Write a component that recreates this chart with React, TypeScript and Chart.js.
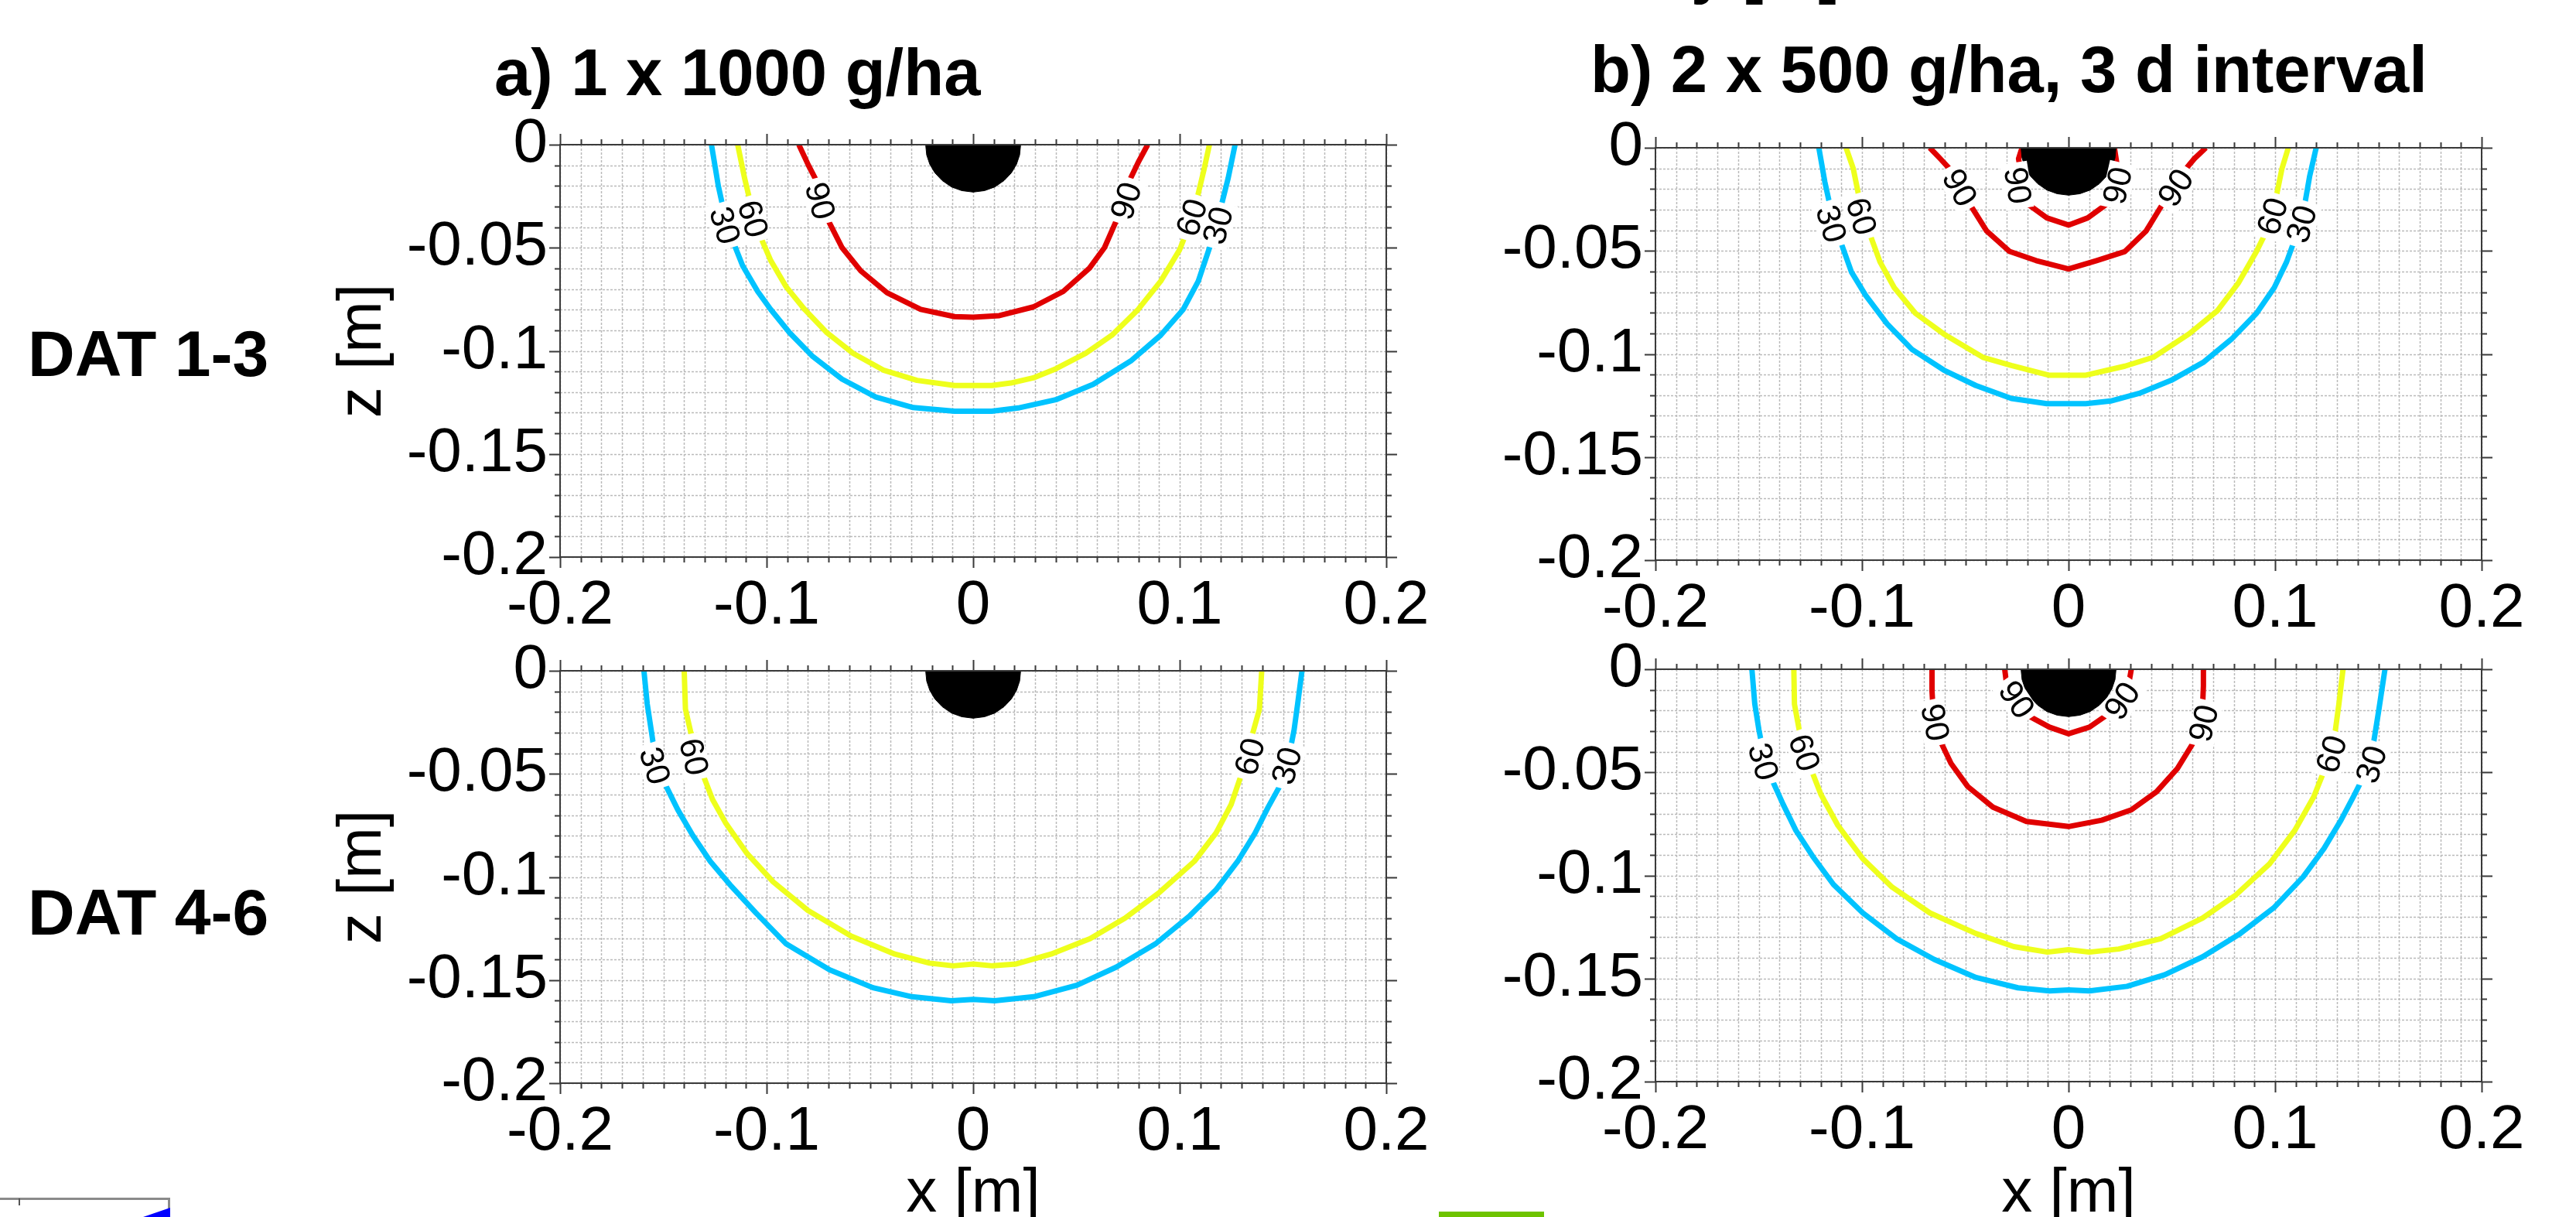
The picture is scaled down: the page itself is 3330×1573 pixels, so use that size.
import React, { useEffect, useRef } from 'react';
import { Chart, registerables } from 'chart.js';

Chart.register(...registerables);

const FONT = "'Liberation Sans', Arial, Helvetica, sans-serif";

// ---------- axis ticks ----------
const X_TICKS = [-0.2, -0.1, 0, 0.1, 0.2];
const Z_TICKS = [0, -0.05, -0.1, -0.15, -0.2];

// ---------- text ----------
const PANEL_TITLES = ['a) 1 x 1000 g/ha', 'b) 2 x 500 g/ha, 3 d interval'];
const ROW_LABELS = ['DAT 1-3', 'DAT 4-6'];
const TOP_CUT_TEXT = 'y [m]';
const X_TITLE = 'x [m]';
const Z_TITLE = 'z [m]';

// ---------- application source (black half disc) ----------
const SOURCE_X = [-0.023, -0.0225, -0.021, -0.0185, -0.015, -0.0105, -0.0055, 0, 0.0055, 0.0105, 0.015, 0.0185, 0.021, 0.0225, 0.023];
const SOURCE_Z = [0, -0.005, -0.0095, -0.0137, -0.0174, -0.0205, -0.0223, -0.023, -0.0223, -0.0205, -0.0174, -0.0137, -0.0095, -0.005, 0];

// ---------- panel a : 1 x 1000 g/ha, DAT 1-3 ----------
const A30_X = [-0.1267, -0.1234, -0.1211, -0.1161, -0.1116, -0.1043, -0.098, -0.0889, -0.078, -0.0635, -0.0472, -0.029, -0.009, 0.009, 0.0218, 0.04, 0.0581, 0.0763, 0.0908, 0.1017, 0.109, 0.1153, 0.1199, 0.1235, 0.1268];
const A30_Z = [0, -0.0199, -0.0305, -0.0474, -0.0587, -0.0712, -0.0799, -0.0912, -0.1024, -0.1137, -0.1224, -0.1275, -0.1293, -0.1293, -0.1277, -0.1237, -0.1162, -0.1049, -0.0924, -0.0799, -0.0662, -0.0474, -0.0305, -0.0161, 0];
const A60_X = [-0.114, -0.1107, -0.108, -0.1031, -0.098, -0.0907, -0.0816, -0.0708, -0.0581, -0.0435, -0.0272, -0.009, 0.009, 0.0182, 0.0291, 0.04, 0.0545, 0.0672, 0.0799, 0.0908, 0.0999, 0.1026, 0.1081, 0.1117, 0.1144];
const A60_Z = [0, -0.0161, -0.0274, -0.0443, -0.0562, -0.0687, -0.0799, -0.0912, -0.1012, -0.1093, -0.1143, -0.1168, -0.1168, -0.1156, -0.1131, -0.1087, -0.1012, -0.0924, -0.0799, -0.0662, -0.0511, -0.0443, -0.0274, -0.0124, 0];
const A90_X = [-0.0844, -0.0798, -0.0753, -0.0708, -0.0635, -0.0544, -0.0417, -0.0254, -0.009, 0, 0.0127, 0.0291, 0.0436, 0.0563, 0.0636, 0.0699, 0.0754, 0.0799, 0.0845];
const A90_Z = [0, -0.0099, -0.0186, -0.0355, -0.0499, -0.0612, -0.0718, -0.0799, -0.0834, -0.0837, -0.0829, -0.0787, -0.0712, -0.0599, -0.0499, -0.0355, -0.018, -0.0086, 0];
const A_LABEL_TEXT = ['90', '60', '30', '90', '60', '30'];
const A_LABEL_X = [-0.0746, -0.1071, -0.1207, 0.0745, 0.1063, 0.119];
const A_LABEL_Z = [-0.0274, -0.0361, -0.0393, -0.0274, -0.0355, -0.0393];

// ---------- panel b : 2 x 500 g/ha, DAT 1-3 ----------
const B30_X = [-0.1209, -0.118, -0.1154, -0.1102, -0.1051, -0.0982, -0.0879, -0.0758, -0.0604, -0.0449, -0.0277, -0.0105, 0.0084, 0.0204, 0.0342, 0.0497, 0.0652, 0.0789, 0.091, 0.0996, 0.1056, 0.109, 0.1142, 0.1167, 0.1199];
const B30_Z = [0, -0.0165, -0.0284, -0.0459, -0.0603, -0.0716, -0.0853, -0.0978, -0.1078, -0.1153, -0.1216, -0.1241, -0.1241, -0.1228, -0.1191, -0.1128, -0.1041, -0.0928, -0.0803, -0.0678, -0.0553, -0.0459, -0.0284, -0.014, 0];
const B60_X = [-0.1077, -0.1042, -0.1013, -0.0961, -0.0913, -0.0844, -0.0741, -0.0604, -0.0415, -0.0277, -0.0096, 0.0084, 0.0273, 0.0411, 0.0583, 0.072, 0.0824, 0.091, 0.0953, 0.1004, 0.1033, 0.1064];
const B60_Z = [0, -0.0102, -0.0246, -0.0421, -0.0553, -0.0678, -0.0803, -0.0903, -0.1016, -0.1056, -0.1103, -0.1103, -0.1059, -0.1016, -0.0903, -0.0791, -0.0653, -0.0503, -0.0415, -0.0246, -0.0102, 0];
const B90_OUT_X = [-0.0672, -0.0621, -0.0569, -0.0475, -0.0397, -0.0285, -0.0157, 0, 0.0136, 0.0273, 0.0376, 0.0445, 0.0557, 0.0609, 0.0665];
const B90_OUT_Z = [0, -0.0053, -0.0109, -0.0278, -0.0403, -0.0503, -0.0547, -0.0588, -0.0547, -0.0503, -0.0403, -0.029, -0.0115, -0.0053, 0];
const B90_IN_X = [-0.0225, -0.0242, -0.0208, -0.0105, 0, 0.0093, 0.0196, 0.0236, 0.0222];
const B90_IN_Z = [0, -0.0053, -0.0265, -0.034, -0.0375, -0.034, -0.0265, -0.009, 0];
const B_LABEL_TEXT = ['30', '60', '90', '90', '90', '90', '60', '30'];
const B_LABEL_X = [-0.1154, -0.1008, -0.0531, -0.0251, 0.0242, 0.0523, 0.0992, 0.1133];
const B_LABEL_Z = [-0.0371, -0.0334, -0.0196, -0.0184, -0.0184, -0.0196, -0.0334, -0.0371];

// ---------- panel c : 1 x 1000 g/ha, DAT 4-6 ----------
const C30_X = [-0.1594, -0.1578, -0.1557, -0.1546, -0.1489, -0.143, -0.1357, -0.1273, -0.1178, -0.1052, -0.0905, -0.0695, -0.0485, -0.0296, -0.0106, 0, 0.0104, 0.0293, 0.0503, 0.0693, 0.0882, 0.105, 0.1176, 0.1281, 0.1365, 0.1428, 0.1487, 0.1537, 0.1554, 0.1571, 0.1592];
const C30_Z = [0, -0.0161, -0.0299, -0.0374, -0.0555, -0.0674, -0.0799, -0.0924, -0.1037, -0.1174, -0.1325, -0.145, -0.1537, -0.1581, -0.16, -0.1594, -0.16, -0.1581, -0.1525, -0.1437, -0.1325, -0.1187, -0.1062, -0.0924, -0.0787, -0.0662, -0.0555, -0.0374, -0.0286, -0.0161, 0];
const C60_X = [-0.1399, -0.1393, -0.1367, -0.1346, -0.1308, -0.1262, -0.1199, -0.1094, -0.0968, -0.08, -0.059, -0.0379, -0.0211, -0.0096, 0, 0.0094, 0.0209, 0.0377, 0.0566, 0.0735, 0.0903, 0.1071, 0.1176, 0.1249, 0.1298, 0.1344, 0.1386, 0.1397];
const C60_Z = [0, -0.0186, -0.0299, -0.0337, -0.0505, -0.0624, -0.0737, -0.0887, -0.1024, -0.1162, -0.1287, -0.1374, -0.1418, -0.1431, -0.1422, -0.1431, -0.1422, -0.1374, -0.1299, -0.12, -0.1074, -0.0924, -0.0787, -0.0649, -0.0505, -0.0337, -0.0186, 0];
const C_LABEL_TEXT = ['30', '60', '60', '30'];
const C_LABEL_X = [-0.1546, -0.1357, 0.1344, 0.1523];
const C_LABEL_Z = [-0.0462, -0.0418, -0.0418, -0.0462];

// ---------- panel d : 2 x 500 g/ha, DAT 4-6 ----------
const D30_X = [-0.1533, -0.1519, -0.1499, -0.1487, -0.1432, -0.1381, -0.132, -0.1239, -0.1138, -0.0996, -0.0833, -0.0651, -0.0448, -0.0245, -0.0092, 0, 0.0101, 0.0283, 0.0466, 0.0649, 0.0831, 0.0994, 0.1136, 0.1237, 0.1319, 0.1379, 0.142, 0.1477, 0.1501, 0.1532];
const D30_Z = [0, -0.0169, -0.0294, -0.0356, -0.0544, -0.0657, -0.0782, -0.0907, -0.1044, -0.1182, -0.1307, -0.1407, -0.1495, -0.1545, -0.156, -0.1555, -0.156, -0.1538, -0.1482, -0.1395, -0.1282, -0.1157, -0.1007, -0.0869, -0.0732, -0.0619, -0.0538, -0.0356, -0.0206, 0];
const D60_X = [-0.133, -0.1327, -0.1304, -0.13, -0.1243, -0.1199, -0.1117, -0.0996, -0.0854, -0.0671, -0.0448, -0.0265, -0.0102, 0, 0.0101, 0.0243, 0.0446, 0.0649, 0.0811, 0.0973, 0.1095, 0.1187, 0.1237, 0.1288, 0.1309, 0.1329];
const D60_Z = [0, -0.0169, -0.0294, -0.0325, -0.0494, -0.0607, -0.0757, -0.0919, -0.1057, -0.1182, -0.1282, -0.1345, -0.1372, -0.136, -0.1372, -0.1357, -0.1307, -0.1207, -0.1094, -0.0944, -0.0782, -0.0619, -0.0494, -0.0325, -0.0169, 0];
const D90_OUT_X = [-0.0661, -0.0661, -0.0657, -0.062, -0.0569, -0.0488, -0.0366, -0.0204, 0, 0.0161, 0.0304, 0.0426, 0.0527, 0.0608, 0.0649, 0.0653, 0.0653];
const D90_OUT_Z = [0, -0.0106, -0.0175, -0.035, -0.0457, -0.0569, -0.0669, -0.0738, -0.0763, -0.0732, -0.0682, -0.0594, -0.0482, -0.035, -0.0181, -0.0081, 0];
const D90_IN_X = [-0.0309, -0.0302, -0.0184, -0.0092, 0, 0.0101, 0.0182, 0.0294, 0.0304];
const D90_IN_Z = [0, -0.0056, -0.0231, -0.0281, -0.0313, -0.0281, -0.0225, -0.0056, 0];
const D_LABEL_TEXT = ['30', '60', '90', '90', '90', '90', '60', '30'];
const D_LABEL_X = [-0.1483, -0.1284, -0.0651, -0.0255, 0.0263, 0.0659, 0.1278, 0.1471];
const D_LABEL_Z = [-0.045, -0.0406, -0.0259, -0.015, -0.0156, -0.0263, -0.0413, -0.0463];

// ---------- styling ----------
const LEVEL_COLOR: Record<string, string> = { '30': '#00C3FF', '60': '#EEFF1C', '90': '#E00000' };

type ContourSpec = { level: string; x: number[]; z: number[] };
type PanelData = { contours: ContourSpec[]; labelText: string[]; labelX: number[]; labelZ: number[] };
type Geom = {
  left: number; top: number; width: number; height: number;
  plotLeft: number; plotTop: number; plotRight: number; plotBottom: number;
  zTitle: boolean; xTitle: boolean;
};

const PANELS: { data: PanelData; geom: Geom }[] = [
  {
    data: {
      contours: [
        { level: '30', x: A30_X, z: A30_Z },
        { level: '60', x: A60_X, z: A60_Z },
        { level: '90', x: A90_X, z: A90_Z },
      ],
      labelText: A_LABEL_TEXT, labelX: A_LABEL_X, labelZ: A_LABEL_Z,
    },
    geom: { left: 400, top: 120, width: 1500, height: 720, plotLeft: 724, plotTop: 187, plotRight: 1792, plotBottom: 720, zTitle: true, xTitle: false },
  },
  {
    data: {
      contours: [
        { level: '30', x: B30_X, z: B30_Z },
        { level: '60', x: B60_X, z: B60_Z },
        { level: '90', x: B90_OUT_X, z: B90_OUT_Z },
        { level: '90', x: B90_IN_X, z: B90_IN_Z },
      ],
      labelText: B_LABEL_TEXT, labelX: B_LABEL_X, labelZ: B_LABEL_Z,
    },
    geom: { left: 1900, top: 120, width: 1430, height: 720, plotLeft: 2140, plotTop: 191, plotRight: 3208, plotBottom: 724, zTitle: false, xTitle: false },
  },
  {
    data: {
      contours: [
        { level: '30', x: C30_X, z: C30_Z },
        { level: '60', x: C60_X, z: C60_Z },
      ],
      labelText: C_LABEL_TEXT, labelX: C_LABEL_X, labelZ: C_LABEL_Z,
    },
    geom: { left: 400, top: 800, width: 1500, height: 800, plotLeft: 724, plotTop: 867, plotRight: 1792, plotBottom: 1400, zTitle: true, xTitle: true },
  },
  {
    data: {
      contours: [
        { level: '30', x: D30_X, z: D30_Z },
        { level: '60', x: D60_X, z: D60_Z },
        { level: '90', x: D90_OUT_X, z: D90_OUT_Z },
        { level: '90', x: D90_IN_X, z: D90_IN_Z },
      ],
      labelText: D_LABEL_TEXT, labelX: D_LABEL_X, labelZ: D_LABEL_Z,
    },
    geom: { left: 1900, top: 800, width: 1430, height: 800, plotLeft: 2140, plotTop: 865, plotRight: 3208, plotBottom: 1398, zTitle: false, xTitle: true },
  },
];

function fmt(v: number): string {
  const r = Math.round(v * 100) / 100;
  return r === 0 ? '0' : String(r);
}

function distSeg(px: number, py: number, ax: number, ay: number, bx: number, by: number) {
  const dx = bx - ax;
  const dy = by - ay;
  const L = dx * dx + dy * dy;
  let t = L ? ((px - ax) * dx + (py - ay) * dy) / L : 0;
  t = Math.max(0, Math.min(1, t));
  return Math.hypot(ax + t * dx - px, ay + t * dy - py);
}

function makeDeco(panel: PanelData) {
  return {
    id: 'panelDeco',
    beforeDatasetsDraw(chart: any) {
      const { ctx, chartArea: a } = chart;
      const xs = chart.scales.x;
      const ys = chart.scales.y;
      ctx.save();
      ctx.strokeStyle = 'rgba(130,130,130,0.55)';
      ctx.lineWidth = 1.5;
      ctx.setLineDash([3, 2]);
      ctx.beginPath();
      for (let i = -20; i <= 20; i++) {
        const px = Math.round(xs.getPixelForValue(i / 100)) + 0.5;
        ctx.moveTo(px, a.top);
        ctx.lineTo(px, a.bottom);
      }
      for (let j = -20; j <= 0; j++) {
        const py = Math.round(ys.getPixelForValue(j / 100)) + 0.5;
        ctx.moveTo(a.left, py);
        ctx.lineTo(a.right, py);
      }
      ctx.stroke();
      ctx.restore();
    },
    afterDatasetsDraw(chart: any) {
      const { ctx, chartArea: a } = chart;
      const xs = chart.scales.x;
      const ys = chart.scales.y;
      ctx.save();
      // frame + outward ticks
      ctx.setLineDash([]);
      ctx.strokeStyle = '#3a3a3a';
      ctx.lineWidth = 2;
      ctx.strokeRect(a.left, a.top, a.right - a.left, a.bottom - a.top);
      ctx.beginPath();
      for (let i = -20; i <= 20; i++) {
        const px = Math.round(xs.getPixelForValue(i / 100)) + 0.5;
        const len = i % 10 === 0 ? 14 : 7;
        ctx.moveTo(px, a.top);
        ctx.lineTo(px, a.top - len);
        ctx.moveTo(px, a.bottom);
        ctx.lineTo(px, a.bottom + len);
      }
      for (let j = -20; j <= 0; j++) {
        const py = Math.round(ys.getPixelForValue(j / 100)) + 0.5;
        const len = j % 5 === 0 ? 14 : 7;
        ctx.moveTo(a.left, py);
        ctx.lineTo(a.left - len, py);
        ctx.moveTo(a.right, py);
        ctx.lineTo(a.right + len, py);
      }
      ctx.stroke();

      // contour labels along the lines
      const lines = panel.contours.map((c) =>
        c.x.map((xv, i) => ({ px: xs.getPixelForValue(xv), py: ys.getPixelForValue(c.z[i]) }))
      );
      ctx.font = `43px ${FONT}`;
      ctx.textAlign = 'center';
      ctx.textBaseline = 'middle';
      panel.labelText.forEach((t, k) => {
        const px = xs.getPixelForValue(panel.labelX[k]);
        const py = ys.getPixelForValue(panel.labelZ[k]);
        let best = Infinity;
        let ang = 0;
        lines.forEach((pts) => {
          for (let i = 0; i < pts.length - 1; i++) {
            const p = pts[i];
            const q = pts[i + 1];
            const d = distSeg(px, py, p.px, p.py, q.px, q.py);
            if (d < best) {
              best = d;
              ang = Math.atan2(q.py - p.py, q.px - p.px);
            }
          }
        });
        if (ang > Math.PI / 2) ang -= Math.PI;
        if (ang <= -Math.PI / 2) ang += Math.PI;
        const w = ctx.measureText(t).width;
        ctx.save();
        ctx.translate(px, py);
        ctx.rotate(ang);
        ctx.fillStyle = '#ffffff';
        ctx.fillRect(-w / 2 - 6, -18, w + 12, 36);
        ctx.fillStyle = '#000000';
        ctx.fillText(t, 0, 1);
        ctx.restore();
      });
      ctx.restore();
    },
  };
}

function buildConfig(panel: PanelData, g: Geom): any {
  const source = {
    data: SOURCE_X.map((xv, i) => ({ x: xv, y: SOURCE_Z[i] })),
    borderColor: '#000000',
    backgroundColor: '#000000',
    borderWidth: 1,
    pointRadius: 0,
    fill: 'origin',
    tension: 0,
  };
  const contours = panel.contours.map((c) => ({
    data: c.x.map((xv, i) => ({ x: xv, y: c.z[i] })),
    borderColor: LEVEL_COLOR[c.level],
    borderWidth: 7,
    pointRadius: 0,
    fill: false,
    tension: 0,
    borderJoinStyle: 'round',
  }));
  const tickFont = { family: FONT, size: 80 };
  return {
    type: 'line',
    data: { datasets: [source, ...contours] },
    options: {
      animation: false,
      responsive: false,
      maintainAspectRatio: false,
      devicePixelRatio: 1,
      events: [],
      layout: {
        padding: { top: g.plotTop - g.top, right: g.left + g.width - g.plotRight, left: 0, bottom: 0 },
      },
      plugins: { legend: { display: false }, tooltip: { enabled: false }, title: { display: false } },
      scales: {
        x: {
          type: 'linear',
          position: 'bottom',
          min: -0.2,
          max: 0.2,
          afterBuildTicks: (s: any) => { s.ticks = X_TICKS.map((v) => ({ value: v })); },
          afterFit: (s: any) => { s.height = g.top + g.height - g.plotBottom; },
          ticks: { font: tickFont, color: '#000', padding: 16, maxRotation: 0, minRotation: 0, autoSkip: false, callback: (v: number) => fmt(v) },
          grid: { display: false, drawTicks: false },
          border: { display: false },
          title: { display: g.xTitle, text: X_TITLE, color: '#000', font: { family: FONT, size: 80 }, padding: { top: 0, bottom: 8 } },
        },
        y: {
          type: 'linear',
          position: 'left',
          min: -0.2,
          max: 0,
          afterBuildTicks: (s: any) => { s.ticks = Z_TICKS.map((v) => ({ value: v })); },
          afterFit: (s: any) => { s.width = g.plotLeft - g.left; },
          ticks: { font: tickFont, color: '#000', padding: 16, autoSkip: false, callback: (v: number) => fmt(v) },
          grid: { display: false, drawTicks: false },
          border: { display: false },
          title: { display: g.zTitle, text: Z_TITLE, color: '#000', font: { family: FONT, size: 80 }, padding: { top: 22, bottom: 0 } },
        },
      },
    },
    plugins: [makeDeco(panel)],
  };
}

function PanelChart({ data, geom }: { data: PanelData; geom: Geom }) {
  const ref = useRef<HTMLCanvasElement>(null);
  useEffect(() => {
    if (!ref.current) return;
    const chart = new Chart(ref.current, buildConfig(data, geom));
    return () => chart.destroy();
  }, []);
  return (
    <canvas
      ref={ref}
      width={geom.width}
      height={geom.height}
      style={{ position: 'absolute', left: geom.left, top: geom.top, width: geom.width, height: geom.height }}
    />
  );
}

function Txt({ text, left, top, size, bold }: { text: string; left: number; top: number; size: number; bold?: boolean }) {
  return (
    <div
      style={{
        position: 'absolute', left, top, fontFamily: FONT, fontSize: size, lineHeight: `${size}px`,
        fontWeight: bold ? 700 : 400, color: '#000', whiteSpace: 'nowrap',
      }}
    >
      {text}
    </div>
  );
}

export default function App() {
  return (
    <div style={{ position: 'fixed', left: 0, top: 0, width: 3330, height: 1573, overflow: 'hidden', background: '#ffffff' }}>
      <Txt text={TOP_CUT_TEXT} left={2186} top={-78} size={80} bold />
      <Txt text={PANEL_TITLES[0]} left={639} top={51} size={85} bold />
      <Txt text={PANEL_TITLES[1]} left={2056} top={47} size={85} bold />
      <Txt text={ROW_LABELS[0]} left={36} top={415} size={84} bold />
      <Txt text={ROW_LABELS[1]} left={36} top={1137} size={84} bold />
      {PANELS.map((p, i) => (
        <PanelChart key={i} data={p.data} geom={p.geom} />
      ))}
      {/* remnants at the bottom edge */}
      <div style={{ position: 'absolute', left: -3, top: 1548, width: 220, height: 40, borderTop: '3px solid #8a8a8a', borderRight: '3px solid #8a8a8a' }} />
      <div style={{ position: 'absolute', left: 24, top: 1549, width: 2, height: 9, background: '#555' }} />
      <div style={{ position: 'absolute', left: 185, top: 1561, width: 35, height: 12, background: '#0000ff', clipPath: 'polygon(0% 100%, 100% 0%, 100% 100%)' }} />
      <div style={{ position: 'absolute', left: 1860, top: 1566, width: 136, height: 7, background: '#6EC300' }} />
    </div>
  );
}
